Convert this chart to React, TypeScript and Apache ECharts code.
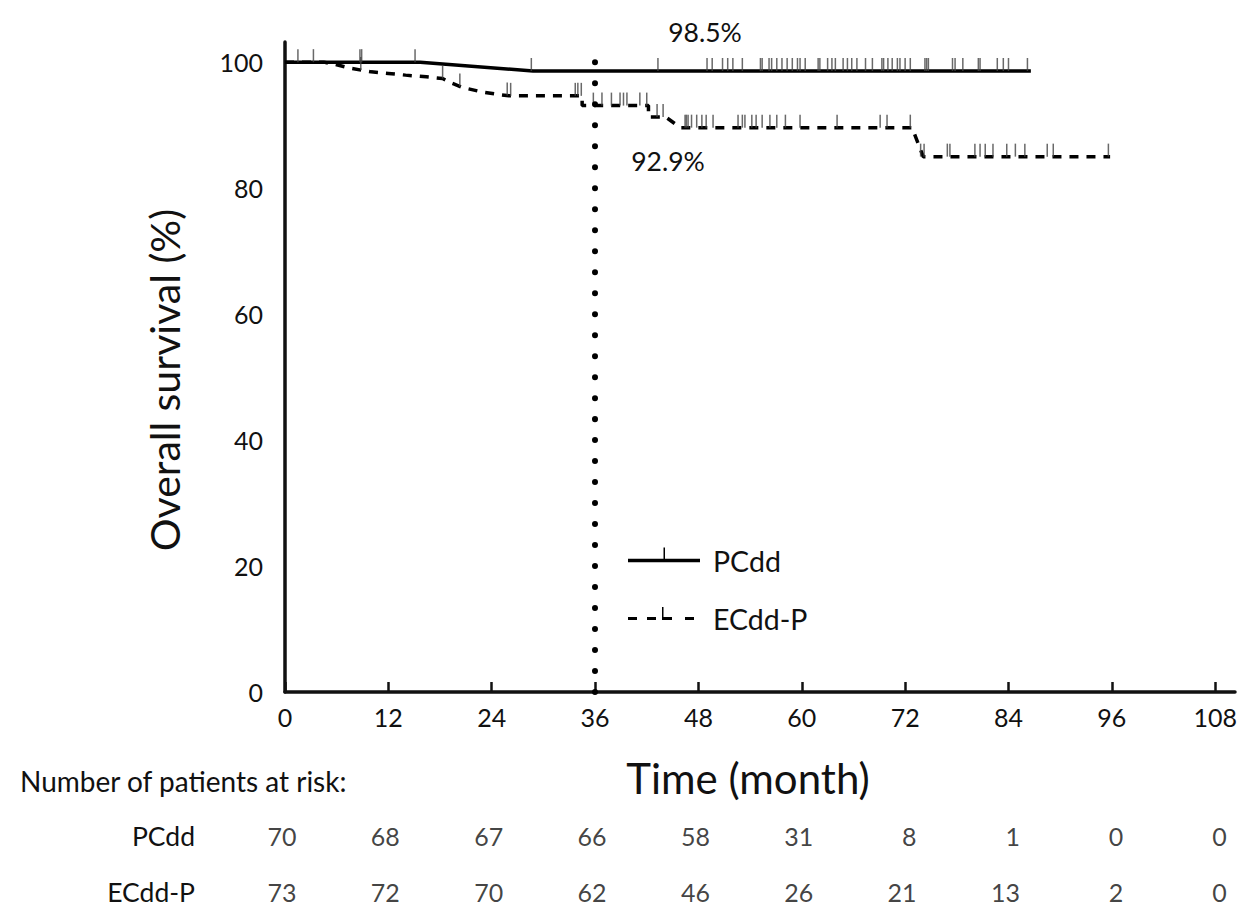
import React, { useEffect, useRef } from "react";
import * as echarts from "echarts";

// ---------- data ----------
const X_TICKS = [0, 12, 24, 36, 48, 60, 72, 84, 96, 108];
const Y_TICKS = [0, 20, 40, 60, 80, 100];

const PCDD_CURVE = [
  [0, 100], [15.7, 100], [28.8, 98.6], [86.6, 98.6],
];

const ECDD_CURVE = [
  [0, 100], [4.5, 100], [5.8, 99.65], [7.5, 99.05], [10.0, 98.46], [12.0, 98.2],
  [14.0, 97.94], [16.4, 97.67], [18.3, 97.4], [19.2, 96.75], [20.6, 95.98],
  [22.8, 95.29], [24.8, 94.87], [26.0, 94.65], [34.5, 94.65], [34.5, 93.1],
  [42.2, 93.1], [42.2, 91.3], [44.2, 91.3], [45.9, 89.6], [72.8, 89.6],
  [74.1, 85.0], [95.8, 85.0],
];

const PCDD_CENSOR = [
  [1.5, 100], [3.3, 100], [8.7, 100], [8.9, 100], [15.1, 100], [28.6, 98.6],
  [43.3, 98.6], [49.0, 98.6], [49.6, 98.6], [50.8, 98.6], [51.4, 98.6], [52.0, 98.6],
  [53.1, 98.6], [55.2, 98.6], [55.4, 98.6], [56.2, 98.6], [56.5, 98.6], [57.1, 98.6],
  [57.7, 98.6], [58.3, 98.6], [58.9, 98.6], [59.5, 98.6], [59.8, 98.6], [60.4, 98.6],
  [61.9, 98.6], [62.1, 98.6], [63.0, 98.6], [63.5, 98.6], [63.9, 98.6], [64.8, 98.6],
  [65.3, 98.6], [65.8, 98.6], [66.4, 98.6], [67.4, 98.6], [68.2, 98.6], [69.3, 98.6],
  [69.5, 98.6], [70.0, 98.6], [70.5, 98.6], [71.1, 98.6], [71.4, 98.6], [72.0, 98.6],
  [72.6, 98.6], [74.3, 98.6], [74.5, 98.6], [74.7, 98.6], [77.5, 98.6], [77.8, 98.6],
  [78.7, 98.6], [80.5, 98.6], [80.7, 98.6], [82.7, 98.6], [83.4, 98.6], [84.0, 98.6],
  [86.2, 98.6],
];

const ECDD_CENSOR = [
  [8.8, 98.75], [18.3, 97.4], [20.3, 96.15], [25.8, 94.7], [26.2, 94.65],
  [33.7, 94.65], [34.0, 94.65], [34.4, 94.65], [35.8, 93.1], [36.8, 93.1],
  [37.9, 93.1], [38.9, 93.1], [39.3, 93.1], [39.7, 93.1], [41.2, 93.1], [42.0, 93.1],
  [43.2, 91.3], [43.9, 91.3], [46.45, 89.6], [46.6, 89.6], [46.8, 89.6], [47.2, 89.6],
  [47.8, 89.6], [48.4, 89.6], [48.9, 89.6], [49.7, 89.6], [52.6, 89.6], [53.1, 89.6],
  [53.4, 89.6], [54.2, 89.6], [54.7, 89.6], [55.4, 89.6], [56.3, 89.6], [57.1, 89.6],
  [58.1, 89.6], [59.8, 89.6], [64.1, 89.6], [69.1, 89.6], [69.9, 89.6], [72.6, 89.6],
  [73.8, 85.0], [74.2, 85.0], [76.9, 85.0], [77.2, 85.0], [80.1, 85.0], [80.7, 85.0],
  [81.3, 85.0], [82.2, 85.0], [83.8, 85.0], [84.8, 85.0], [85.9, 85.0], [88.5, 85.0],
  [89.2, 85.0], [95.6, 85.0],
];

const RISK_GROUPS = ["PCdd", "ECdd-P"];
const RISK_PCDD = [70, 68, 67, 66, 58, 31, 8, 1, 0, 0];
const RISK_ECDD = [73, 72, 70, 62, 46, 26, 21, 13, 2, 0];

const MILESTONE_MONTH = 36;
const LABEL_PCDD = "98.5%";
const LABEL_ECDD = "92.9%";

// ---------- style ----------
const FONT = "Lato, 'Noto Sans', sans-serif";
const INK = "#111";

const ICON_SOLID =
  "path://M0,0h0.01v0.01h-0.01z M0,12.25h72v3.5h-72z M35.5,1h1.5v11.25h-1.5z M79.99,27.99h0.01v0.01h-0.01z";
const ICON_DASH =
  "path://M0,0h0.01v0.01h-0.01z M0,12.5h9v3h-9z M19,12.5h9v3h-9z M34,12.5h10v3h-10z M34,2.5h1.5v10h-1.5z M57,12.5h9v3h-9z M79.99,27.99h0.01v0.01h-0.01z";

export default function App() {
  const ref = useRef<HTMLDivElement>(null);

  useEffect(() => {
    if (!ref.current) return;
    const chart = echarts.init(ref.current, null, { renderer: "svg" });

    const riskSeries = (vals: number[], row: number, name: string) => ({
      name,
      type: "scatter",
      xAxisIndex: 1,
      yAxisIndex: 1,
      silent: true,
      symbolSize: 1,
      itemStyle: { color: "transparent" },
      data: vals.map((n, i) => [X_TICKS[i], row, n]),
      label: {
        show: true,
        position: "left",
        distance: 0,
        offset: [12, 0],
        formatter: (p: any) => String(p.value[2]),
        fontSize: 25,
        fontFamily: FONT,
        color: INK,
      },
    });

    const censorSeries = (data: number[][], name: string) => ({
      name,
      type: "scatter",
      silent: true,
      symbol: "rect",
      symbolSize: [1.5, 13],
      symbolOffset: [0, -6.5],
      itemStyle: { color: "#444" },
      data,
      z: 4,
    });

    const option: any = {
      animation: false,
      backgroundColor: "#fff",
      grid: [
        { left: 285, top: 42, width: 950, height: 650 },
        { left: 285, top: 808, width: 950, height: 112 },
      ],
      xAxis: [
        {
          type: "value",
          gridIndex: 0,
          min: 0,
          max: 110.3,
          interval: 12,
          name: "Time (month)",
          nameLocation: "middle",
          nameGap: 65,
          nameTextStyle: { fontSize: 42, fontFamily: FONT, color: INK, padding: [0, 24, 0, 0] },
          axisLine: { show: true, onZero: false, lineStyle: { color: "#111", width: 3.5 } },
          axisTick: { show: true, inside: true, length: 10, customValues: X_TICKS, lineStyle: { color: "#111", width: 2.5 } },
          axisLabel: { customValues: X_TICKS, fontSize: 25, fontFamily: FONT, color: INK, margin: 12 },
          splitLine: { show: false },
        },
        { type: "value", gridIndex: 1, min: 0, max: 110.3, show: false },
      ],
      yAxis: [
        {
          type: "value",
          gridIndex: 0,
          min: 0,
          max: 103.2,
          interval: 20,
          name: "Overall survival (%)",
          nameLocation: "middle",
          nameRotate: 90,
          nameGap: 100,
          nameTextStyle: { fontSize: 41, fontFamily: FONT, color: INK, padding: [0, 26, 0, 0] },
          axisLine: { show: true, lineStyle: { color: "#111", width: 3.5 } },
          axisTick: { show: false },
          axisLabel: { customValues: Y_TICKS, fontSize: 25, fontFamily: FONT, color: INK, margin: 22 },
          splitLine: { show: false },
        },
        {
          type: "category",
          gridIndex: 1,
          data: RISK_GROUPS,
          inverse: true,
          axisLine: { show: false },
          axisTick: { show: false },
          splitLine: { show: false },
          axisLabel: { fontSize: 26.5, fontFamily: FONT, color: INK, margin: 90 },
        },
      ],
      legend: {
        orient: "vertical",
        left: 628,
        top: 546,
        itemWidth: 80,
        itemHeight: 28,
        itemGap: 29,
        padding: 0,
        selectedMode: false,
        itemStyle: { borderWidth: 0, borderColor: "transparent" },
        textStyle: { fontSize: 28.5, fontFamily: FONT, color: INK, lineHeight: 28 },
        data: [
          { name: "PCdd", icon: ICON_SOLID },
          { name: "ECdd-P", icon: ICON_DASH },
        ],
      },
      graphic: [
        {
          type: "text",
          x: 705,
          y: 32,
          style: { text: LABEL_PCDD, fontSize: 26.5, fontFamily: FONT, fill: INK, align: "center", verticalAlign: "middle" },
        },
        {
          type: "text",
          x: 668,
          y: 161,
          style: { text: LABEL_ECDD, fontSize: 26.5, fontFamily: FONT, fill: INK, align: "center", verticalAlign: "middle" },
        },
        {
          type: "text",
          x: 20,
          y: 781,
          style: { text: "Number of patients at risk:", fontSize: 28, fontFamily: FONT, fill: INK, align: "left", verticalAlign: "middle" },
        },
      ],
      series: [
        {
          name: "PCdd",
          type: "line",
          data: PCDD_CURVE,
          symbol: "none",
          showSymbol: false,
          color: "#000",
          lineStyle: { color: "#000", width: 3.5 },
          z: 3,
        },
        {
          name: "ECdd-P",
          type: "line",
          data: ECDD_CURVE,
          symbol: "none",
          showSymbol: false,
          color: "#000",
          lineStyle: { color: "#000", width: 3.5, type: [9, 8] },
          z: 3,
          markLine: {
            silent: true,
            symbol: ["none", "none"],
            label: { show: false },
            emphasis: { disabled: true },
            lineStyle: { color: "#000", width: 6, type: [0.01, 20.98], cap: "round" },
            data: [[{ coord: [MILESTONE_MONTH, 0] }, { coord: [MILESTONE_MONTH, 100] }]],
          },
        },
        censorSeries(PCDD_CENSOR, "PCdd censored"),
        censorSeries(ECDD_CENSOR, "ECdd-P censored"),
        riskSeries(RISK_PCDD, 0, "At risk PCdd"),
        riskSeries(RISK_ECDD, 1, "At risk ECdd-P"),
      ],
    };

    chart.setOption(option);
    return () => chart.dispose();
  }, []);

  return (
    <div
      ref={ref}
      style={{ position: "absolute", left: 0, top: 0, width: 1260, height: 921 }}
    />
  );
}
